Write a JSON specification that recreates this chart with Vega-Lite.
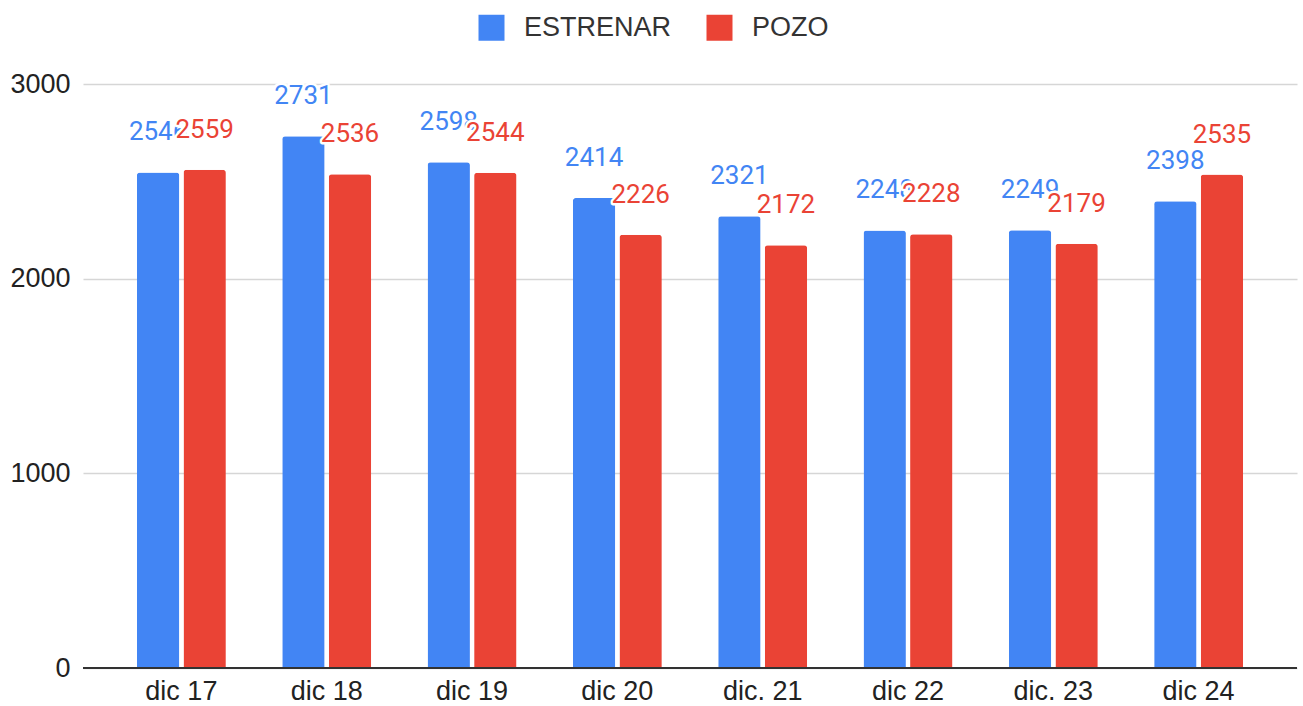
{
  "$schema": "https://vega.github.io/schema/vega-lite/v6.json",
  "width": 1214,
  "height": 584,
  "autosize": {"type": "none"},
  "padding": {"left": 83, "top": 84, "right": 6, "bottom": 38},
  "background": "white",
  "config": {"view": {"stroke": null}},
  "data": {"values": [
    {"periodo": "dic 17", "tipo": "ESTRENAR", "valor": 2546},
    {"periodo": "dic 17", "tipo": "POZO", "valor": 2559},
    {"periodo": "dic 18", "tipo": "ESTRENAR", "valor": 2731},
    {"periodo": "dic 18", "tipo": "POZO", "valor": 2536},
    {"periodo": "dic 19", "tipo": "ESTRENAR", "valor": 2598},
    {"periodo": "dic 19", "tipo": "POZO", "valor": 2544},
    {"periodo": "dic 20", "tipo": "ESTRENAR", "valor": 2414},
    {"periodo": "dic 20", "tipo": "POZO", "valor": 2226},
    {"periodo": "dic. 21", "tipo": "ESTRENAR", "valor": 2321},
    {"periodo": "dic. 21", "tipo": "POZO", "valor": 2172},
    {"periodo": "dic 22", "tipo": "ESTRENAR", "valor": 2248},
    {"periodo": "dic 22", "tipo": "POZO", "valor": 2228},
    {"periodo": "dic. 23", "tipo": "ESTRENAR", "valor": 2249},
    {"periodo": "dic. 23", "tipo": "POZO", "valor": 2179},
    {"periodo": "dic 24", "tipo": "ESTRENAR", "valor": 2398},
    {"periodo": "dic 24", "tipo": "POZO", "valor": 2535}
  ]},
  "encoding": {
    "x": {
      "field": "periodo", "type": "nominal", "sort": null,
      "scale": {"paddingInner": 0.388, "paddingOuter": 0.371},
      "axis": {"title": null, "labelAngle": 0, "labelFont": "Liberation Sans", "labelFontSize": 27, "labelColor": "#222222", "ticks": false, "domain": false, "labelPadding": 10, "grid": false}
    },
    "xOffset": {"field": "tipo", "type": "nominal", "sort": ["ESTRENAR", "POZO"], "scale": {"paddingInner": 0.09}},
    "y": {
      "field": "valor", "type": "quantitative",
      "scale": {"domain": [0, 3000], "nice": false},
      "axis": {"title": null, "values": [0, 1000, 2000, 3000], "format": "d", "labelFont": "Liberation Sans", "labelFontSize": 27, "labelColor": "#222222", "ticks": false, "domain": false, "labelPadding": 13, "gridColor": "#d6d6d6", "gridWidth": 1.5}
    }
  },
  "layer": [
    {
      "mark": {"type": "bar", "cornerRadiusTopLeft": 3, "cornerRadiusTopRight": 3},
      "encoding": {
        "color": {
          "field": "tipo", "type": "nominal", "sort": ["ESTRENAR", "POZO"],
          "scale": {"domain": ["ESTRENAR", "POZO"], "range": ["#4285F4", "#EA4335"]},
          "legend": {"title": null, "orient": "none", "direction": "horizontal", "legendX": 395, "legendY": -70, "symbolType": "square", "symbolSize": 676, "symbolStrokeWidth": 0, "labelFont": "Liberation Sans", "labelFontSize": 27, "labelColor": "#333333", "labelOffset": 19, "columnPadding": 34}
        }
      }
    },
    {
      "mark": {"type": "rule", "color": "#333333", "strokeWidth": 1.5},
      "encoding": {"y": {"datum": 0}, "x": {"value": 0}, "x2": {"value": 1214}, "xOffset": null}
    },
    {
      "transform": [{"filter": "datum.tipo === 'ESTRENAR'"}],
      "mark": {"type": "text", "baseline": "middle", "dy": -40, "font": "Roboto", "fontSize": 26, "stroke": "white", "strokeWidth": 5, "fill": "white", "strokeJoin": "round"},
      "encoding": {"text": {"field": "valor", "type": "quantitative"}}
    },
    {
      "transform": [{"filter": "datum.tipo === 'ESTRENAR'"}],
      "mark": {"type": "text", "baseline": "middle", "dy": -40, "font": "Roboto", "fontSize": 26, "fill": "#4285F4"},
      "encoding": {"text": {"field": "valor", "type": "quantitative"}}
    },
    {
      "transform": [{"filter": "datum.tipo === 'POZO'"}],
      "mark": {"type": "text", "baseline": "middle", "dy": -40, "font": "Roboto", "fontSize": 26, "stroke": "white", "strokeWidth": 5, "fill": "white", "strokeJoin": "round"},
      "encoding": {"text": {"field": "valor", "type": "quantitative"}}
    },
    {
      "transform": [{"filter": "datum.tipo === 'POZO'"}],
      "mark": {"type": "text", "baseline": "middle", "dy": -40, "font": "Roboto", "fontSize": 26, "fill": "#EA4335"},
      "encoding": {"text": {"field": "valor", "type": "quantitative"}}
    }
  ]
}
